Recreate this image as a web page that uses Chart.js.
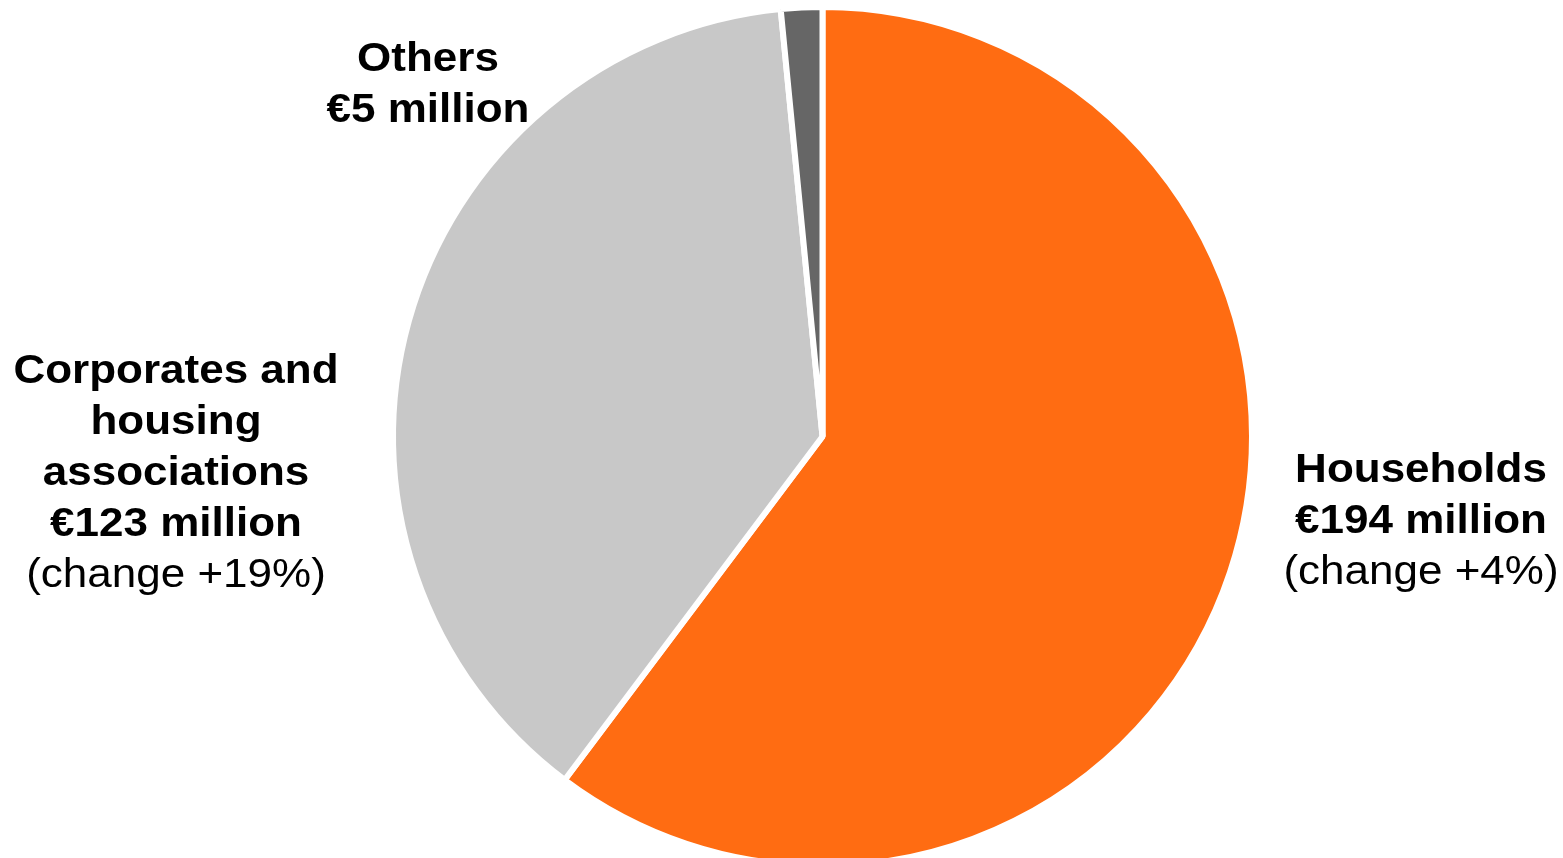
<!DOCTYPE html>
<html>
<head>
<meta charset="utf-8">
<script src="https://cdn.jsdelivr.net/npm/chart.js@4"></script>
<style>
  html, body { margin: 0; padding: 0; background: #fff; overflow: hidden; }
  #wrap { width: 1563px; height: 858px; overflow: hidden; }
</style>
</head>
<body>
<div id="wrap"><canvas id="pieChart" width="1563" height="870"></canvas></div>
<script>
// data
const categories = ["Households", "Corporates and housing associations", "Others"];
const amounts = [194, 123, 5];
const sliceColors = ["#FF6C12", "#C8C8C8", "#666666"];

// label text, one array of lines per slice
const labelLines = [
  ["Households", "€194 million", "(change +4%)"],
  ["Corporates and", "housing", "associations", "€123 million", "(change +19%)"],
  ["Others", "€5 million"],
];
const boldLineCount = [2, 4, 2];

// where each label block sits (centre x, first baseline y)
const labelPos = [
  { x: 1421, y: 482 },
  { x: 176, y: 383 },
  { x: 428, y: 71 },
];

const labelPlugin = {
  id: "pieLabels",
  afterDraw(chart) {
    const c = chart.ctx;
    labelLines.forEach((lines, i) => {
      c.save();
      c.translate(labelPos[i].x, labelPos[i].y);
      c.scale(1.1, 1); // the original text is a bit wider than Arial
      c.fillStyle = "#000";
      c.textAlign = "center";
      c.textBaseline = "alphabetic";
      lines.forEach((txt, j) => {
        const bold = j < boldLineCount[i];
        c.font = (bold ? "bold " : "") + "40px 'Liberation Sans', Arial, sans-serif";
        c.fillText(txt, 0, j * 51);
      });
      c.restore();
    });
  },
};

const ctx = document.getElementById("pieChart");
new Chart(ctx, {
  type: "pie",
  data: {
    labels: categories,
    datasets: [
      {
        data: amounts,
        backgroundColor: sliceColors,
        borderColor: "#ffffff",
        borderWidth: 6,
      },
    ],
  },
  options: {
    responsive: false,
    animation: false,
    layout: {
      padding: { left: 390, right: 308, top: 4, bottom: 1 },
    },
    plugins: {
      legend: { display: false },
      tooltip: { enabled: false },
    },
  },
  plugins: [labelPlugin],
});
</script>
</body>
</html>
